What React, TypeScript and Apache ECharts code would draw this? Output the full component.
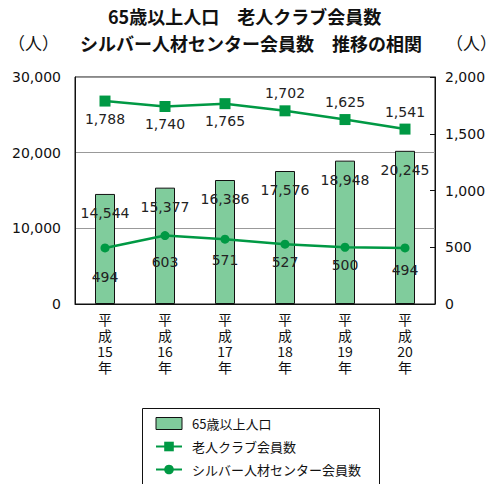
import React, { useEffect, useRef } from "react";
import * as echarts from "echarts";

const categories = ["15", "16", "17", "18", "19", "20"];
const population65 = [14544, 15377, 16386, 17576, 18948, 20245];
const clubMembers = [1788, 1740, 1765, 1702, 1625, 1541];
const silverMembers = [494, 603, 571, 527, 500, 494];
const leftTicks = [0, 10000, 20000, 30000];
const rightTicks = [0, 500, 1000, 1500, 2000];

const seriesNames = ["65歳以上人口", "老人クラブ会員数", "シルバー人材センター会員数"];

// label placement (style only)
const clubLabelPos = ["bottom", "bottom", "bottom", "top", "top", "top"];
const silverLabelDist = [18, 15, 9, 6, 6, 11];

const FONT = "'Noto Sans CJK JP', 'Noto Sans', sans-serif";
const NUM = "'DejaVu Sans', sans-serif";
const GREEN = "#009944";
const BAR = "#80cc9c";

export default function App() {
  const ref = useRef<HTMLDivElement>(null);
  useEffect(() => {
    const chart = echarts.init(ref.current!, null, { renderer: "svg" });
    const fmt = (v: number) => v.toLocaleString("en-US");
    chart.setOption({
      animation: false,
      textStyle: { fontFamily: FONT },
      graphic: [
        { type: "text", x: 108, top: 7, style: { text: "65歳以上人口　老人クラブ会員数", font: `bold 18px ${FONT}`, fill: "#111" } },
        { type: "text", x: 80, top: 34, style: { text: "シルバー人材センター会員数　推移の相関", font: `bold 18px ${FONT}`, fill: "#111" } },
        { type: "text", x: 8, top: 34, style: { text: "（人）", font: `17px ${FONT}`, fill: "#111" } },
        { type: "text", x: 446, top: 34, style: { text: "（人）", font: `17px ${FONT}`, fill: "#111" } },
        { type: "rect", shape: { x: 142.5, y: 408.5, width: 237, height: 90 }, style: { fill: "none", stroke: "#111", lineWidth: 1 } },
      ],
      grid: { left: 75, right: 63, top: 77, bottom: 180, show: true, borderColor: "#111", borderWidth: 1, backgroundColor: "transparent" },
      legend: {
        orient: "vertical",
        left: 155,
        top: 417,
        height: 80,
        data: [
          { name: seriesNames[0], icon: "rect", itemStyle: { color: BAR, borderColor: "#111", borderWidth: 1 } },
          { name: seriesNames[1] },
          { name: seriesNames[2] },
        ],
        itemWidth: 26,
        itemHeight: 12,
        itemGap: 10,
        padding: 0,
        textStyle: { fontSize: 13, color: "#111", fontFamily: FONT, padding: [0, 0, 0, 5] },
      },
      xAxis: {
        type: "category",
        data: categories,
        axisLine: { lineStyle: { color: "#111", width: 1 } },
        axisTick: { show: false },
        axisLabel: {
          formatter: (v: string) => `平\n成\n${v}\n年`,
          fontSize: 14,
          lineHeight: 16,
          color: "#111",
          margin: 7,
          fontFamily: FONT,
        },
      },
      yAxis: [
        {
          type: "value",
          min: leftTicks[0],
          max: leftTicks[leftTicks.length - 1],
          interval: leftTicks[1] - leftTicks[0],
          axisLine: { show: true, lineStyle: { color: "#111" } },
          axisTick: { show: false },
          splitLine: { lineStyle: { color: "#999", width: 1 } },
          axisLabel: { formatter: fmt, fontSize: 14, color: "#111", margin: 14, fontFamily: NUM },
        },
        {
          type: "value",
          min: rightTicks[0],
          max: rightTicks[rightTicks.length - 1],
          interval: rightTicks[1] - rightTicks[0],
          axisLine: { show: true, lineStyle: { color: "#111" } },
          axisTick: { show: true, inside: true, length: 5, lineStyle: { color: "#111" } },
          splitLine: { show: false },
          axisLabel: { formatter: fmt, fontSize: 14, color: "#111", margin: 10, fontFamily: NUM },
        },
      ],
      series: [
        {
          name: seriesNames[0],
          type: "bar",
          yAxisIndex: 0,
          barWidth: 20,
          data: population65,
          itemStyle: { color: BAR, borderColor: "#111", borderWidth: 1 },
          label: { show: true, position: "insideTop", distance: 12, formatter: (p: any) => fmt(p.value), fontSize: 14, color: "#222", fontFamily: NUM },
          z: 1,
        },
        {
          name: seriesNames[1],
          type: "line",
          yAxisIndex: 1,
          data: clubMembers.map((v, i) => ({ value: v, label: { position: clubLabelPos[i] } })),
          symbol: "rect",
          symbolSize: 11,
          lineStyle: { color: GREEN, width: 2.5 },
          itemStyle: { color: GREEN },
          label: { show: true, distance: 5, formatter: (p: any) => fmt(p.value), fontSize: 14, color: "#222", fontFamily: NUM },
          z: 3,
        },
        {
          name: seriesNames[2],
          type: "line",
          yAxisIndex: 1,
          data: silverMembers.map((v, i) => ({ value: v, label: { distance: silverLabelDist[i] } })),
          symbol: "circle",
          symbolSize: 9,
          lineStyle: { color: GREEN, width: 2.5 },
          itemStyle: { color: GREEN },
          label: { show: true, position: "bottom", formatter: (p: any) => fmt(p.value), fontSize: 14, color: "#222", fontFamily: NUM },
          z: 3,
        },
      ],
    });
    return () => chart.dispose();
  }, []);
  return <div ref={ref} style={{ width: 498, height: 484, position: "absolute", left: 0, top: 0 }} />;
}
